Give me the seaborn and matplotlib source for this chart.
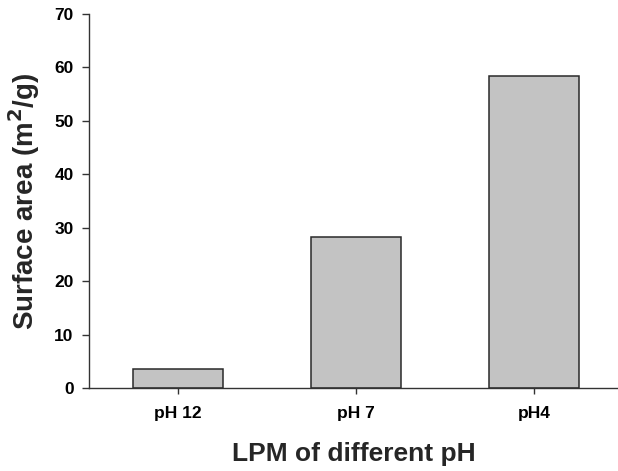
import matplotlib
matplotlib.use("Agg")
import matplotlib.pyplot as plt
import seaborn as sns
import pandas as pd

categories = ["pH 12", "pH 7", "pH4"]
surface_area = [3.5, 28.2, 58.4]
y_ticks = [0, 10, 20, 30, 40, 50, 60, 70]

sns.set_style("ticks")
plt.rcParams["font.family"] = ["Liberation Sans", "DejaVu Sans"]
plt.rcParams["font.weight"] = "bold"

df = pd.DataFrame({"cat": categories, "val": surface_area})

fig = plt.figure(figsize=(6.18, 4.71), dpi=100)
ax = fig.add_axes([89/618, 83/471, 529/618, 374/471])

sns.barplot(data=df, x="cat", y="val", ax=ax, color="#c3c3c3",
            saturation=1, width=0.505, edgecolor="#2a2a2a", linewidth=1.1)

ax.set_xlim(-0.5, 2.472)
ax.set_ylim(0, 70)
ax.set_yticks(y_ticks)
ax.set_yticklabels([str(t) for t in y_ticks], fontsize=12.5, fontweight="bold")
ax.set_xticks(range(len(categories)))
ax.set_xticklabels(categories, fontsize=12.5, fontweight="bold")

for s in ["top", "right"]:
    ax.spines[s].set_visible(False)
for s in ["left", "bottom"]:
    ax.spines[s].set_color("#333333")
    ax.spines[s].set_linewidth(1.0)

ax.tick_params(axis="y", direction="out", length=5, width=1, pad=6, colors="#333333", labelcolor="black")
ax.tick_params(axis="x", direction="out", length=4, width=1, pad=9, colors="#333333", labelcolor="black")

ax.set_xlabel("LPM of different pH", fontsize=19, fontweight="bold", labelpad=15)
ax.set_ylabel("Surface area (m$^{\\mathbf{2}}$/g)", fontsize=20, fontweight="bold", labelpad=9)

fig.savefig("out.png", dpi=100)
